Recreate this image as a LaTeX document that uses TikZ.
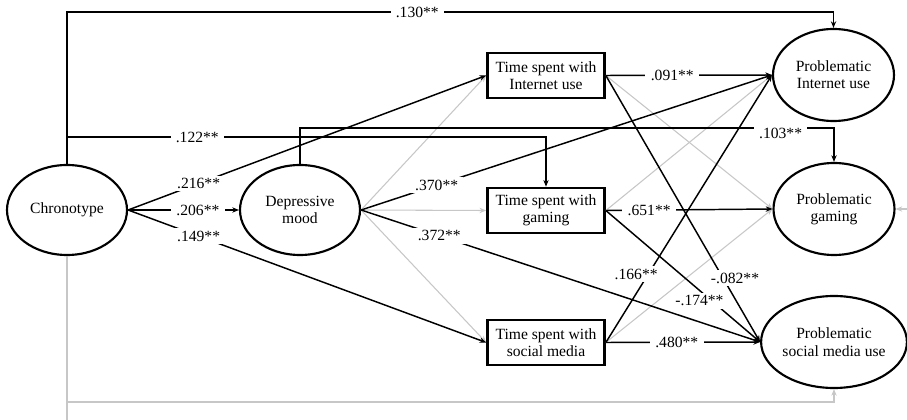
\documentclass[tikz,border=0pt]{standalone}
\usepackage{fontspec}
\setmainfont{Liberation Serif}
\usetikzlibrary{shapes.geometric,arrows.meta,calc}
\begin{document}
\begin{tikzpicture}[x=0.75pt,y=-0.75pt,
 font=\fontsize{11.7}{13}\selectfont,
 ell/.style={ellipse,draw,line width=1.6pt,inner sep=0pt,minimum width=90pt,minimum height=67.5pt,align=center},
 pell/.style={ell,minimum width=90.75pt,minimum height=69pt},
 boxnode/.style={rectangle,draw,line width=2pt,inner sep=0pt,minimum width=87.75pt,minimum height=33.75pt,align=center},
 conn/.style={line width=1.1pt,-{Stealth[length=5pt,width=4pt]}},
 gline/.style={line width=0.8pt,draw=black!22},
 gconn/.style={gline,-{Stealth[length=5pt,width=4pt]}},
 lbl/.style={fill=white,inner xsep=4pt,inner ysep=2pt}
]
\useasboundingbox (0,0) rectangle (907,420);

\node[ell] (chrono) at (67,210) {Chronotype};
\node[ell] (dep) at (300,210) {Depressive\\mood};
\node[boxnode] (tint) at (546,75.5) {Time spent with\\Internet use};
\node[boxnode] (tgam) at (546,210.5) {Time spent with\\gaming};
\node[boxnode] (tsoc) at (546,342.5) {Time spent with\\social media};
\node[pell] (pint) at (833.5,75) {Problematic\\Internet use};
\node[pell] (pgam) at (834,209) {Problematic\\gaming};
\node[pell] (psoc) at (834,342) {Problematic\\social media use};

% gray (non-significant) paths
\draw[gconn] (dep.east) -- (tint.west);
\draw[gconn] (dep.east) -- (tgam.west);
\draw[gconn] (dep.east) -- (tsoc.west);
\draw[gconn] (tint.east) -- (pgam.west);
\draw[gconn] (tgam.east) -- (pint.west);
\draw[gconn] (tsoc.east) -- (pgam.west);
\coordinate (rgt) at (907,209);
\draw[gconn] (rgt) -- (pgam.east);
\coordinate (bot) at (67,420);
\coordinate (ybot) at (0,402);
\draw[gline] (chrono.south) -- (bot);
\draw[gconn] (chrono.south |- ybot) -- (psoc.south |- ybot) -- (psoc.south);

% black (significant) paths
\coordinate (y130) at (0,12);
\draw[conn] (chrono.north) -- (chrono.north |- y130) -- node[lbl,pos=0.457]{.130**} (pint.north |- y130) -- (pint.north);
\coordinate (y122) at (0,137);
\draw[conn] (chrono.north |- y122) -- node[lbl,pos=0.272]{.122**} (tgam.north |- y122) -- (tgam.north);
\coordinate (y103) at (0,128);
\draw[conn] (dep.north) -- (dep.north |- y103) -- node[lbl,pos=0.90,yshift=-4pt]{.103**} (pgam.north |- y103) -- (pgam.north);

\draw[conn] (chrono.east) -- node[lbl,pos=0.197]{.216**} (tint.west);
\draw[conn] (chrono.east) -- node[lbl,pos=0.63]{.206**} (dep.west);
\draw[conn] (chrono.east) -- node[lbl,pos=0.197]{.149**} (tsoc.west);
\draw[conn] (dep.east) -- node[lbl,pos=0.184]{.370**} (pint.west);
\draw[conn] (dep.east) -- node[lbl,pos=0.196]{.372**} (psoc.west);
\draw[conn] (tint.east) -- node[lbl,pos=0.40]{.091**} (pint.west);
\draw[conn] (tgam.east) -- node[lbl,pos=0.26]{.651**} (pgam.west);
\draw[conn] (tsoc.east) -- node[lbl,pos=0.46]{.480**} (psoc.west);
\draw[conn] (tsoc.east) -- node[lbl,pos=0.255,xshift=-9pt]{.166**} (pint.west);
\draw[conn] (tint.east) -- node[lbl,pos=0.76,xshift=9pt]{-.082**} (psoc.west);
\draw[conn] (tgam.east) -- node[lbl,pos=0.685,xshift=-9pt]{-.174**} (psoc.west);
\end{tikzpicture}
\end{document}
